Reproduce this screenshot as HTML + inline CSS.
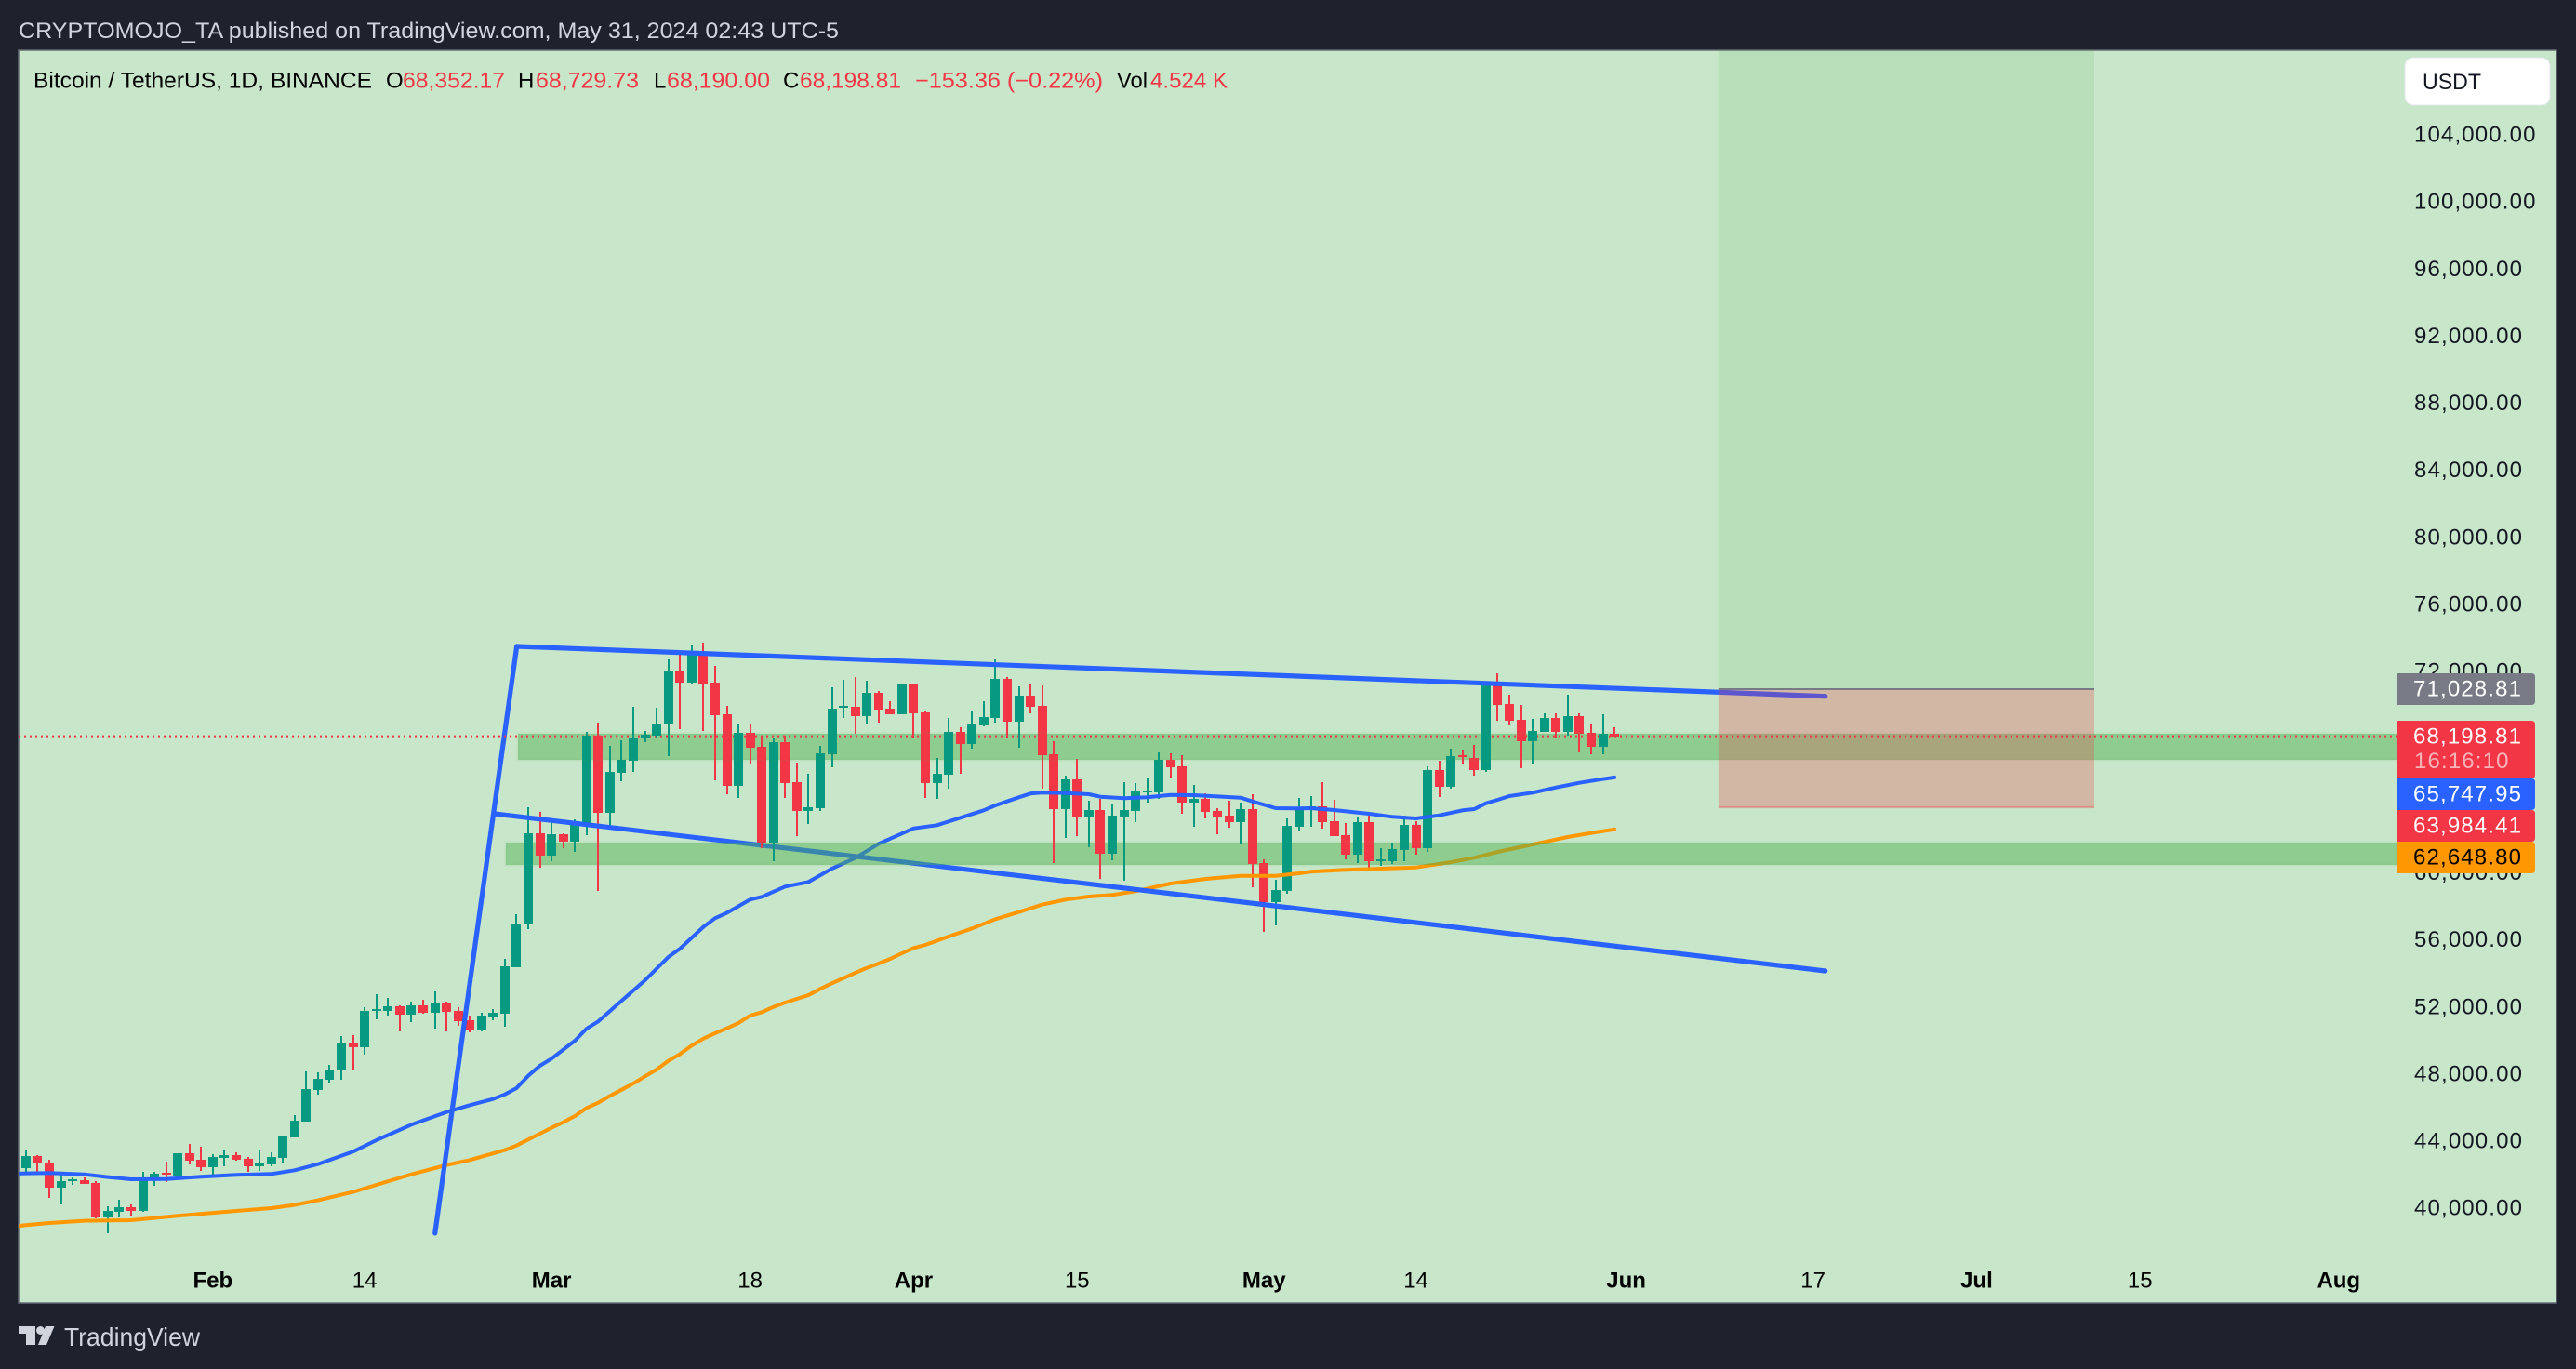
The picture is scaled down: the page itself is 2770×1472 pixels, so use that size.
<!DOCTYPE html>
<html lang="en">
<head>
<meta charset="utf-8">
<title>BTC/USDT chart</title>
<style>
html,body{margin:0;padding:0;background:#1e222d;}
svg{display:block;font-family:"Liberation Sans",Arial,sans-serif;}
</style>
</head>
<body>
<svg id="chart" xmlns="http://www.w3.org/2000/svg" width="2770" height="1472" viewBox="0 0 2770 1472">
  <defs>
    <clipPath id="plotClip"><rect x="20" y="54" width="2558" height="1347"></rect></clipPath>
    <clipPath id="bandClip"></clipPath>
  </defs>
  <rect x="0" y="0" width="2770" height="1472" fill="#1e222d"></rect>
  <text x="20" y="41" font-size="24.5" fill="#d1d4dc" textLength="882" lengthAdjust="spacingAndGlyphs">CRYPTOMOJO_TA published on TradingView.com, May 31, 2024 02:43 UTC-5</text>
  <rect x="20" y="54" width="2729" height="1347" fill="#c8e6c9" stroke="#666b76" stroke-width="1.5"></rect>

  <g id="plot" clip-path="url(#plotClip)">
    <g id="candle-layer" shape-rendering="crispEdges"></g>
    <g id="ma-layer"></g>
    <g id="trend-layer"></g>
    <g id="band-layer"></g>
    <g id="tool-layer"></g>
    <line id="last-line" x1="20" x2="2578" stroke="#f23645" stroke-width="2" stroke-dasharray="2 4"></line>
    <use href="#candle-layer" clip-path="url(#bandClip)"></use>
  </g>

  <g id="y-axis"></g>
  <g id="x-axis"></g>
  <g id="price-labels"></g>

  <g font-size="24" fill="#000">
    <text x="36" y="94.5" textLength="364" lengthAdjust="spacingAndGlyphs">Bitcoin / TetherUS, 1D, BINANCE</text>
    <text x="415" y="94.5">O</text>
    <text x="433" y="94.5" fill="#f23645" textLength="110" lengthAdjust="spacingAndGlyphs">68,352.17</text>
    <text x="557" y="94.5">H</text>
    <text x="576" y="94.5" fill="#f23645" textLength="111" lengthAdjust="spacingAndGlyphs">68,729.73</text>
    <text x="703" y="94.5">L</text>
    <text x="717" y="94.5" fill="#f23645" textLength="111" lengthAdjust="spacingAndGlyphs">68,190.00</text>
    <text x="842" y="94.5">C</text>
    <text x="860" y="94.5" fill="#f23645" textLength="109" lengthAdjust="spacingAndGlyphs">68,198.81</text>
    <text x="984" y="94.5" fill="#f23645" textLength="202" lengthAdjust="spacingAndGlyphs">−153.36 (−0.22%)</text>
    <text x="1201" y="94.5" textLength="33" lengthAdjust="spacingAndGlyphs">Vol</text>
    <text x="1237" y="94.5" fill="#f23645" textLength="83" lengthAdjust="spacingAndGlyphs">4.524 K</text>
  </g>

  <g>
    <rect x="2586" y="62" width="156" height="51" rx="9" fill="#ffffff" stroke="#e4e7ec" stroke-width="1"></rect>
    <text x="2605" y="96" font-size="24" fill="#131722" textLength="63" lengthAdjust="spacingAndGlyphs">USDT</text>
  </g>

  <g>
    <path d="M20 1426H38V1446H28V1434H20Z" fill="#d1d4dc"></path>
    <circle cx="43.5" cy="1430.5" r="4.5" fill="#d1d4dc"></circle>
    <path d="M49 1426H58.5L50 1446H41Z" fill="#d1d4dc"></path>
    <text x="69" y="1447" font-size="28" fill="#d1d4dc" textLength="146" lengthAdjust="spacingAndGlyphs">TradingView</text>
  </g>
</svg>

<script>
// Daily candles, index 0 = Jan 16 2024, index 136 = May 31 2024
const openPrices = [42454,43175,42786,41289,41696,41733,41567,39515,39848,40125,
39903,41788,42177,42010,43341,42953,42509,43064,43230,43008,
42565,42676,43064,44284,45226,47111,47721,48276,49939,49662,
51824,51824,52101,51602,52157,51713,52268,51824,51270,50715,
51492,51658,54431,56982,62415,61085,62360,61916,63025,68237,
63635,66019,66740,68071,68237,68902,72063,71398,73061,71398,
69512,65243,68403,67572,61861,67849,65465,63746,63912,67128,
69900,69956,69401,70788,69844,69512,71286,69623,65409,65908,
68458,67737,68846,69290,71619,69068,70621,70011,67128,63856,
65631,63357,63801,61195,63413,63745,64854,64854,66795,66407,
64244,64466,63745,63468,63080,63856,60640,58312,58977,62803,
63801,64023,63135,62304,61139,63080,60751,60751,61417,62914,
61527,66185,65187,67072,66906,66185,71452,70122,69179,67904,
68458,69290,68458,69401,68403,67571,68352.17];
const highPrices = [43563,43230,42953,42232,41918,41899,41678,40181,40569,40291,
42232,42232,42842,43341,43895,43729,43286,43507,43396,43119,
43563,43396,44394,45614,48220,48165,48608,50327,50383,52046,
52822,52600,52157,52379,52490,52989,52379,52046,51547,51713,
51935,54929,57591,63968,63691,63081,62415,63247,68459,69013,
67627,67960,69956,68514,69900,72784,73283,73615,73782,72396,
70011,68902,68958,68237,68071,68237,66629,65964,67627,71120,
71564,71730,71508,70899,70288,71341,71286,69678,66906,69290,
68736,69678,70288,72783,71730,71175,71286,71231,67904,65852,
66850,64355,64466,64133,65464,65409,65686,67238,67183,67072,
65298,64799,63912,64355,64244,64743,60862,59642,63302,64522,
64632,65464,64411,63024,63413,63468,61527,61860,63468,63135,
66407,66739,67460,67405,67682,71452,71951,70676,70066,69234,
69567,69567,70676,69567,68902,69512,68729.73];
const lowPrices = [42047,42232,40680,40291,41456,41511,39460,38573,39515,39571,
39848,41400,41622,41788,42676,42287,41899,42565,42897,42232,
42287,42565,42786,44284,45226,46834,47555,47721,48331,49218,
51325,51547,50604,51159,51658,50771,50604,50937,50549,50604,
51270,50882,54431,56704,60364,60752,61528,61306,62304,58978,
62748,65520,66075,67849,68071,67017,68625,71342,68514,65576,
64744,64522,66574,61528,60752,64522,62249,62970,63746,66352,
69291,68348,68902,69013,69512,69512,68070,64522,64466,65076,
65963,67460,68791,69013,68126,67516,69567,65076,60640,62137,
62248,61583,59698,60807,59587,63080,64244,64466,65741,63579,
62803,63302,62359,62747,61749,59199,56537,56925,58811,62525,
62803,62692,62248,60862,60640,60197,60474,60585,60751,61139,
61306,64577,65076,66573,65852,66074,69124,68846,66296,66573,
68458,68126,68236,67238,67127,67127,68190.00];
const closePrices = [43175,42731,41289,41678,41807,41511,39515,39903,40125,39903,
41844,42121,42066,43341,42897,42509,43119,43230,42953,42565,
42731,43119,44339,45282,47167,47777,48331,49939,49662,51824,
51935,52101,51602,52157,51713,52268,51769,51214,50715,51547,
51713,54486,57037,62415,61085,62360,61916,63136,68237,63635,
66075,66796,68126,68293,68958,72063,71398,73061,71342,69457,
65243,68403,67516,61861,67849,65409,63746,63968,67184,69845,
70011,69401,70788,69790,69512,71286,69567,65409,65963,68458,
67737,68902,69345,71619,69068,70621,69955,67072,63856,65631,
63357,63801,61195,63468,63801,64910,64965,66795,66351,64244,
64466,63690,63413,63080,63856,60585,58312,59032,62858,63856,
64023,63080,62248,61139,63080,60751,60862,61472,62914,61527,
66185,65187,67017,66961,66185,71452,70066,69124,67904,68514,
69290,68458,69401,68347,67571,68347,68198.81];

// Moving averages at these bar indices
const blueMaBars = [-1,0,2,5,7,9,12,15,18,21,23,25,28,30,33,36,38,40,41,42,43,44,45,47,48,49,51,53,55,56,58,59,60,62,63,65,67,69,71,73,76,78,80,82,83,85,86,87,89,91,92,94,96,98,100,104,105,107,109,110,112,115,117,119,121,123,124,125,126,127,129,131,133,135,136];
const blueMaValues = [42121,42140,42158,42084,41918,41788,41807,41937,42047,42103,42325,42694,43433,44117,45041,45799,46206,46575,46852,47222,47961,48554,48979,50051,50771,51197,52436,53655,55041,55540,56834,57351,57666,58460,58627,59237,59514,60308,60937,61787,62710,62895,63339,63782,64078,64558,64780,64836,64817,64743,64595,64503,64558,64706,64688,64540,64318,63912,63893,63912,63801,63579,63394,63302,63486,63782,63856,64207,64411,64632,64835,65150,65427,65649,65747.95];
const orangeMaBars = [-1,0,2,5,9,13,18,21,23,25,28,30,33,36,38,41,42,44,45,46,47,48,49,50,51,52,53,54,55,56,57,58,59,60,61,62,63,64,65,66,67,68,69,70,71,72,73,74,75,76,77,79,81,83,85,87,89,91,93,95,98,101,104,107,109,110,113,116,119,122,124,126,129,132,134,136];
const orangeMaValues = [38979,39053,39183,39312,39349,39608,39903,40070,40255,40532,41031,41456,42084,42638,42934,43526,43803,44505,44857,45189,45559,46039,46353,46760,47130,47499,47925,48331,48849,49255,49754,50179,50494,50789,51103,51547,51751,52064,52323,52545,52767,53136,53469,53783,54098,54393,54652,54929,55262,55576,55761,56260,56741,57295,57720,58164,58460,58644,58737,58958,59421,59698,59883,59883,60030,60123,60234,60308,60382,60696,60955,61306,61749,62193,62433,62648.80];

// Drawn trend lines: bar index and price of each end
const trendNames = ['impulse-trend-line','upper-channel-line','lower-channel-line'];
const trendBarsStart = [35.02,42.02,40.11];
const trendPriceStart = [38573,73560,63579];
const trendBarsEnd = [42.02,154.05,154.05];
const trendPriceEnd = [73560,70582,54209];

// Horizontal zones
const zoneNames = ['upper-support-zone','lower-support-zone'];
const zoneStartBar = [42.13,41.09];
const zoneTop = [68348,61860];
const zoneBottom = [66795,60530];

// Long position tool
const toolStartBar = 144.9;
const toolEndBar = 177.08;
const toolEntry = 71028.81;
const toolStop = 63984.41;
const lastPrice = 68198.81;

// Axis ticks
const priceTicks = [104000,100000,96000,92000,88000,84000,80000,76000,72000,68000,64000,60000,56000,52000,48000,44000,40000];
const priceTickLabels = ['104,000.00','100,000.00','96,000.00','92,000.00','88,000.00','84,000.00','80,000.00','76,000.00','72,000.00','68,000.00','64,000.00','60,000.00','56,000.00','52,000.00','48,000.00','44,000.00','40,000.00'];
const timeTickBars = [16,29,45,62,76,90,106,119,137,153,167,181,198];
const timeTickLabels = ['Feb','14','Mar','18','Apr','15','May','14','Jun','17','Jul','15','Aug'];

const NS = 'http://www.w3.org/2000/svg';
function xOf(i){ return 27.9 + 12.56 * i; }
function yOf(p){ return 146 + (104000 - p) * 0.018035; }
function mk(tag, parent, attrs){
  const el = document.createElementNS(NS, tag);
  for (const k in attrs) el.setAttribute(k, attrs[k]);
  parent.appendChild(el);
  return el;
}

// Candles
const candleLayer = document.getElementById('candle-layer');
openPrices.forEach(function(o, i){
  const c = closePrices[i];
  const color = c >= o ? '#089981' : '#f23645';
  const cx = Math.round(xOf(i));
  const g = mk('g', candleLayer, {fill: color});
  
  
  const yh = Math.round(yOf(highPrices[i]));
  const yl = Math.round(yOf(lowPrices[i]));
  const wick = mk('rect', g, {x: cx - 1, y: yh, width: 2, height: Math.max(1, yl - yh)});
  
  
  const top = Math.round(yOf(Math.max(o, c)));
  const bot = Math.round(yOf(Math.min(o, c)));
  const body = mk('rect', g, {x: cx - 5, y: top, width: 10, height: Math.max(2, bot - top)});
  
  
});

// Moving averages
function maPoints(bars, values){
  return bars.map(function(b, k){ return xOf(b).toFixed(1) + ',' + yOf(values[k]).toFixed(1); }).join(' ');
}
const maLayer = document.getElementById('ma-layer');
const orangeLine = mk('polyline', maLayer, {points: maPoints(orangeMaBars, orangeMaValues), fill: 'none', stroke: '#ff9800', 'stroke-width': 4, 'stroke-linecap': 'round', 'stroke-linejoin': 'round'});


const blueLine = mk('polyline', maLayer, {points: maPoints(blueMaBars, blueMaValues), fill: 'none', stroke: '#2962ff', 'stroke-width': 4, 'stroke-linecap': 'round', 'stroke-linejoin': 'round'});



// Trend lines
const trendLayer = document.getElementById('trend-layer');
trendNames.forEach(function(name, k){
  const ln = mk('line', trendLayer, {x1: xOf(trendBarsStart[k]), y1: yOf(trendPriceStart[k]), x2: xOf(trendBarsEnd[k]), y2: yOf(trendPriceEnd[k]), stroke: '#2962ff', 'stroke-width': 5.2, 'stroke-linecap': 'round'});
  
  
});

// Zones
const bandLayer = document.getElementById('band-layer');
const bandClip = document.getElementById('bandClip');
zoneNames.forEach(function(name, k){
  const x = xOf(zoneStartBar[k]);
  const y = yOf(zoneTop[k]);
  const h = yOf(zoneBottom[k]) - y;
  const r = mk('rect', bandLayer, {x: x, y: y, width: 2578 - x, height: h, fill: 'rgba(76,175,80,0.47)', stroke: 'rgba(76,175,80,0.07)', 'stroke-width': 3});
  
  
  mk('rect', bandClip, {x: x, y: y, width: 2578 - x, height: h});
});

// Long position tool
const toolLayer = document.getElementById('tool-layer');
const tx = xOf(toolStartBar);
const tw = xOf(toolEndBar) - tx;
const ty = yOf(toolEntry);
const sy = yOf(toolStop);
const profit = mk('rect', toolLayer, {x: tx, y: 54, width: tw, height: ty - 54, fill: 'rgba(76,175,80,0.12)'});


const loss = mk('rect', toolLayer, {x: tx, y: ty, width: tw, height: sy - ty + 1.5, fill: 'rgba(242,54,69,0.27)'});


const entry = mk('line', toolLayer, {x1: tx, x2: tx + tw, y1: ty + 0.4, y2: ty + 0.4, stroke: '#787b86', 'stroke-width': 2});


const stop = mk('line', toolLayer, {x1: tx, x2: tx + tw, y1: sy, y2: sy, stroke: 'rgba(242,54,69,0.3)', 'stroke-width': 1.5});



// Last price dotted line
const lastLine = document.getElementById('last-line');
lastLine.setAttribute('y1', yOf(lastPrice));
lastLine.setAttribute('y2', yOf(lastPrice));

// Price axis
const yAxis = document.getElementById('y-axis');
priceTicks.forEach(function(p, k){
  const t = mk('text', yAxis, {x: 2596, y: yOf(p) + 6.5, 'font-size': 24, 'letter-spacing': 1.15, fill: '#131722'});
  
  
  t.textContent = priceTickLabels[k];
});

// Time axis
const xAxis = document.getElementById('x-axis');
timeTickBars.forEach(function(b, k){
  const label = timeTickLabels[k];
  const t = mk('text', xAxis, {x: xOf(b), y: 1384.5, 'font-size': 24, 'text-anchor': 'middle', fill: '#000', 'font-weight': isNaN(Number(label)) ? 'bold' : 'normal'});
  
  
  t.textContent = label;
});

// Price labels on axis
const labelNames = ['entry-price-label','last-price-label','blue-ma-price-label','stop-price-label','orange-ma-price-label'];
const labelTops = [724,775,837,871,905];
const labelHeights = [34,62,34,34,34];
const labelFills = ['#787b86','#f23645','#2962ff','#f23645','#ff9800'];
const labelText = ['71,028.81','68,198.81','65,747.95','63,984.41','62,648.80'];
const labelInk = ['#ffffff','#ffffff','#ffffff','#ffffff','#000000'];
const labelsGroup = document.getElementById('price-labels');
labelNames.forEach(function(name, k){
  const top = labelTops[k], h = labelHeights[k], right = 2726, left = 2578, rad = 4;
  const p = mk('path', labelsGroup, {d: 'M' + left + ' ' + top + 'H' + (right - rad) + 'Q' + right + ' ' + top + ' ' + right + ' ' + (top + rad) + 'V' + (top + h - rad) + 'Q' + right + ' ' + (top + h) + ' ' + (right - rad) + ' ' + (top + h) + 'H' + left + 'Z', fill: labelFills[k]});
  
  
  const t = mk('text', labelsGroup, {x: 2595, y: top + 24.5, 'font-size': 24, 'letter-spacing': 1.15, fill: labelInk[k]});
  
  
  t.textContent = labelText[k];
});
const countdown = mk('text', labelsGroup, {x: 2596, y: 826, 'font-size': 24, 'letter-spacing': 1.15, fill: 'rgba(255,255,255,0.62)'});


countdown.textContent = '16:16:10';
</script>
</body>
</html>
